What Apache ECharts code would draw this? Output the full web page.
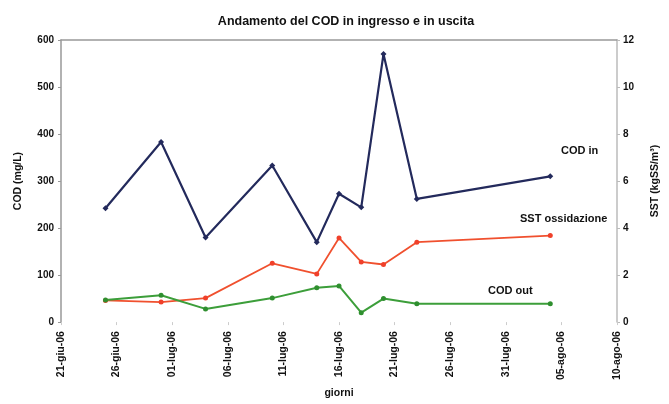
<!DOCTYPE html>
<html>
<head>
<meta charset="utf-8">
<script src="https://cdn.jsdelivr.net/npm/echarts@6/dist/echarts.min.js"></script>
<style>html,body{margin:0;padding:0;background:#fff;}#c{width:669px;height:404px;}</style>
</head>
<body>
<div id="c"></div>
<script>
// ---- data ----
var startDate = '2006-06-21';
var endDate = '2006-08-10';
var dates = ['2006-06-25','2006-06-30','2006-07-04','2006-07-10','2006-07-14','2006-07-16','2006-07-18','2006-07-20','2006-07-23','2006-08-04'];
var codIn = [242, 383, 180, 333, 170, 273, 244, 570, 262, 310];
var codOut = [47, 57, 28, 51, 73, 77, 20, 50, 39, 39];
var sstOx = [0.92, 0.85, 1.02, 2.5, 2.05, 3.58, 2.56, 2.45, 3.4, 3.68];
var monthNames = ['gen','feb','mar','apr','mag','giu','lug','ago','set','ott','nov','dic'];
var title = 'Andamento del COD in ingresso e in uscita';

// ---- helpers ----
var DAY = 86400000;
function toDay(s){ return Math.round((Date.parse(s) - Date.parse(startDate)) / DAY); }
function dayLabel(d){
  var t = new Date(Date.parse(startDate) + d * DAY);
  var dd = ('0' + t.getUTCDate()).slice(-2);
  var yy = ('' + t.getUTCFullYear()).slice(-2);
  return dd + '-' + monthNames[t.getUTCMonth()] + '-' + yy;
}
function pairs(vals){ return dates.map(function(d,i){ return [toDay(d), vals[i]]; }); }

var font = 'Liberation Sans, Arial, sans-serif';
var chart = echarts.init(document.getElementById('c'));
chart.setOption({
  animation: false,
  backgroundColor: '#fff',
  title: { text: title, left: 341, textAlign: 'center', top: 10,
    textStyle: { fontFamily: font, fontSize: 12.5, fontWeight: 'bold', color: '#111' } },
  grid: { left: 61, right: 46, top: 40, bottom: 73 },
  xAxis: [{
    type: 'value', min: 0, max: toDay(endDate), interval: 5,
    name: 'giorni', nameLocation: 'middle', nameGap: 64,
    nameTextStyle: { fontFamily: font, fontSize: 10.5, fontWeight: 'bold', color: '#111' },
    axisLine: { show: false, onZero: false },
    axisTick: { show: true, length: 3, lineStyle: { color: '#ccc' } },
    splitLine: { show: false },
    axisLabel: { rotate: 90, formatter: dayLabel, margin: 9,
      fontFamily: font, fontSize: 10.5, fontWeight: 'bold', color: '#111' }
  }, {
    type: 'value', position: 'top', min: 0, max: toDay(endDate),
    axisLine: { show: true, onZero: false, lineStyle: { color: '#999', width: 1.5 } },
    axisTick: { show: false }, axisLabel: { show: false }, splitLine: { show: false }
  }],
  yAxis: [{
    type: 'value', min: 0, max: 600, interval: 100,
    name: 'COD (mg/L)', nameLocation: 'middle', nameGap: 37, nameRotate: 90,
    nameTextStyle: { fontFamily: font, fontSize: 10.5, fontWeight: 'bold', color: '#111' },
    axisLine: { show: true, onZero: false, lineStyle: { color: '#999', width: 1.5 } },
    axisTick: { show: true, length: 3, lineStyle: { color: '#999' } },
    splitLine: { show: false },
    axisLabel: { fontFamily: font, fontSize: 10, fontWeight: 'bold', color: '#111', margin: 7 }
  }, {
    type: 'value', min: 0, max: 12, interval: 2, position: 'right',
    name: 'SST (kgSS/m³)', nameLocation: 'middle', nameGap: 33, nameRotate: 90,
    nameTextStyle: { fontFamily: font, fontSize: 10.5, fontWeight: 'bold', color: '#111' },
    axisLine: { show: true, onZero: false, lineStyle: { color: '#bbb', width: 1.5 } },
    axisTick: { show: true, length: 3, lineStyle: { color: '#bbb' } },
    splitLine: { show: false },
    axisLabel: { fontFamily: font, fontSize: 10, fontWeight: 'bold', color: '#111', margin: 6 }
  }],
  series: [{
    name: 'COD in', type: 'line', yAxisIndex: 0, data: pairs(codIn),
    symbol: 'diamond', symbolSize: 6,
    lineStyle: { color: '#232a5c', width: 2.2 }, itemStyle: { color: '#232a5c' }
  }, {
    name: 'SST ossidazione', type: 'line', yAxisIndex: 1, data: pairs(sstOx),
    symbol: 'circle', symbolSize: 5,
    lineStyle: { color: '#f0502e', width: 1.8 }, itemStyle: { color: '#f0402a' }
  }, {
    name: 'COD out', type: 'line', yAxisIndex: 0, data: pairs(codOut),
    symbol: 'circle', symbolSize: 5,
    lineStyle: { color: '#3c9e3a', width: 2 }, itemStyle: { color: '#2f8f2f' }
  }],
  graphic: [
    { type: 'text', left: 561, top: 145, style: { text: 'COD in', font: 'bold 11px ' + font, fill: '#111' } },
    { type: 'text', left: 520, top: 213, style: { text: 'SST ossidazione', font: 'bold 11px ' + font, fill: '#111' } },
    { type: 'text', left: 488, top: 285, style: { text: 'COD out', font: 'bold 11px ' + font, fill: '#111' } }
  ]
});
</script>
</body>
</html>
